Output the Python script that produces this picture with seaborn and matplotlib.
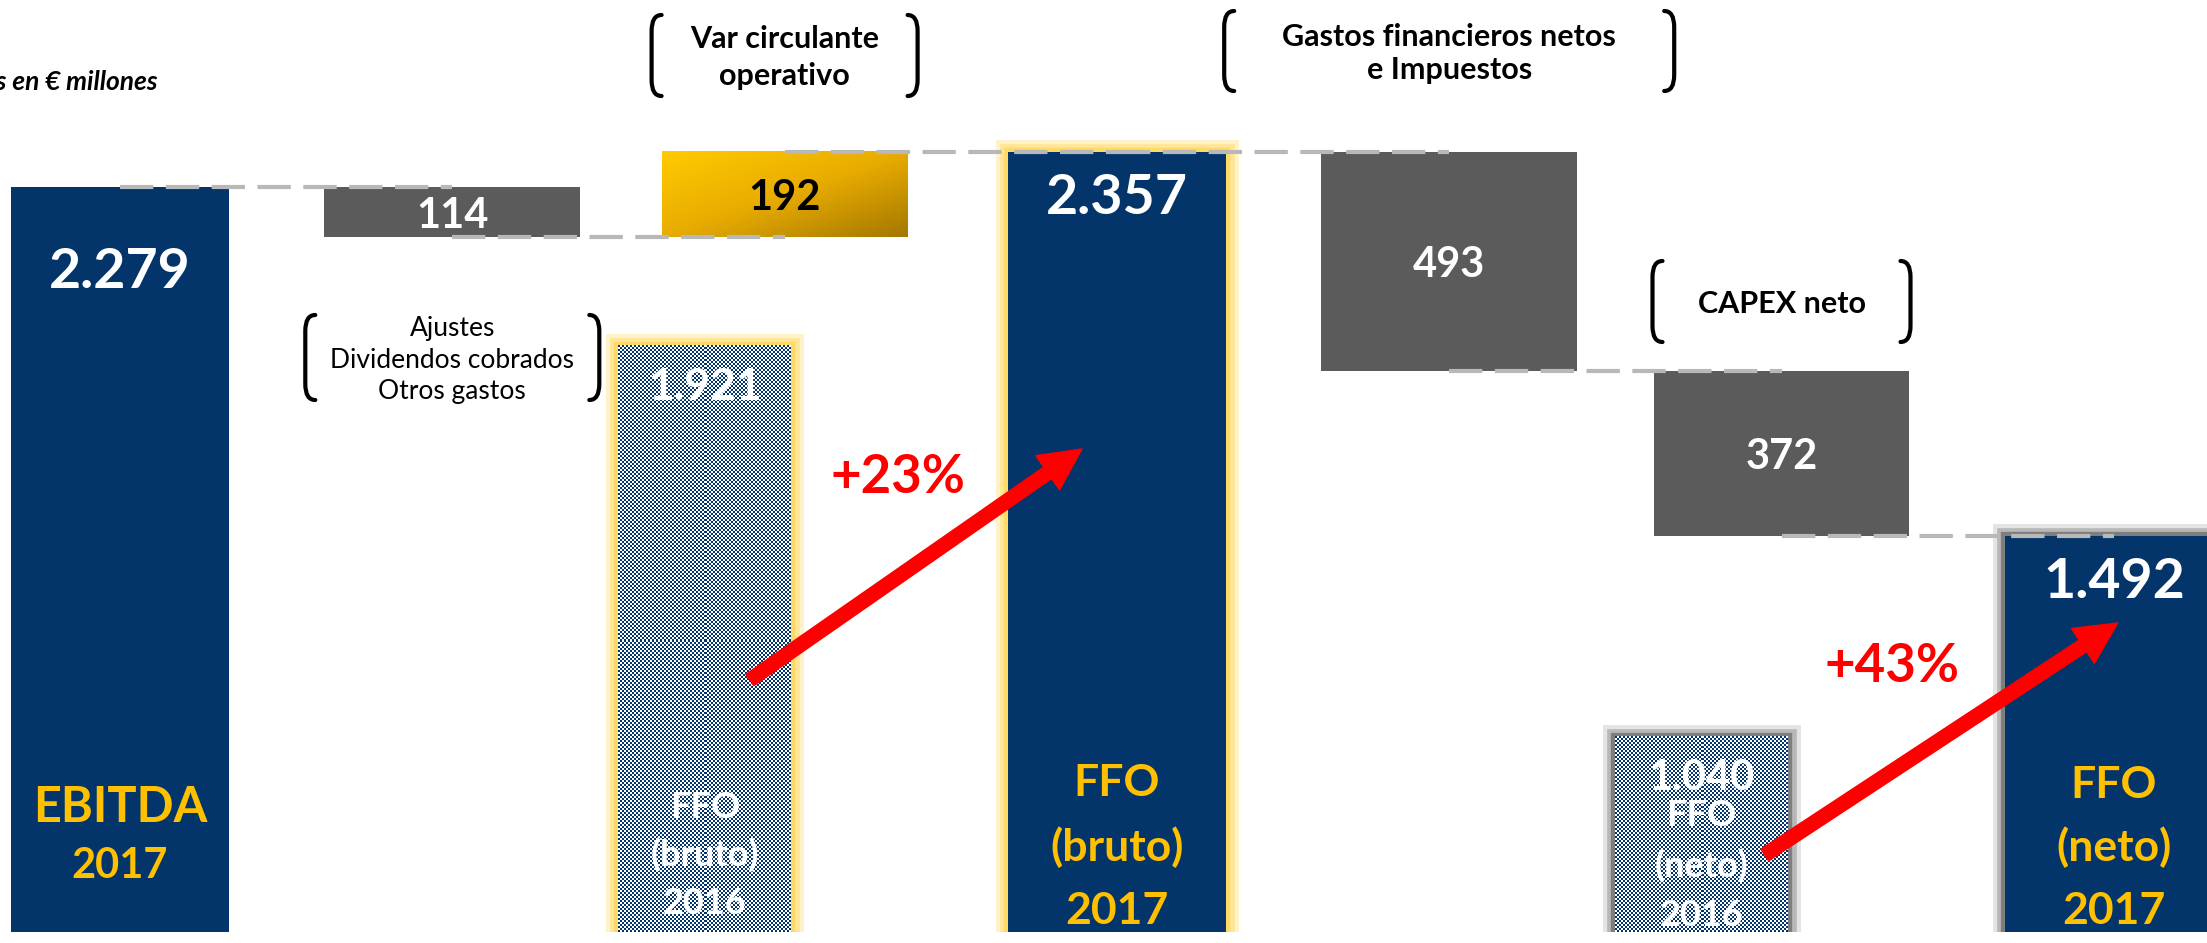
import numpy as np
import pandas as pd
import matplotlib
matplotlib.use("Agg")
import matplotlib.pyplot as plt
import matplotlib.patheffects as pe
from matplotlib.colors import ListedColormap, LinearSegmentedColormap
from matplotlib.patches import FancyArrowPatch, PathPatch
from matplotlib.path import Path
import seaborn as sns

# cifras en € millones
steps = ["EBITDA 2017", "Ajustes", "Var circulante operativo", "FFO bruto 2017",
         "Gastos financieros netos e Impuestos", "CAPEX neto", "FFO neto 2017"]
step_values = [2279, -114, 192, 2357, -493, -372, 1492]
step_kind = ["total", "delta", "delta", "total", "delta", "delta", "total"]
total_captions = {"EBITDA 2017": ["EBITDA", "2017"],
                  "FFO bruto 2017": ["FFO", "(bruto)", "2017"],
                  "FFO neto 2017": ["FFO", "(neto)", "2017"]}

# FFO 2016 (comparativa), dibujado junto a estos pasos
prev_steps = ["Var circulante operativo", "CAPEX neto"]
prev_values = [1921, 1040]
prev_captions = [["FFO", "(bruto)", "2016"], ["FFO", "(neto)", "2016"]]
growth_labels = ["+23%", "+43%"]
growth_targets = ["FFO bruto 2017", "FFO neto 2017"]

note_steps = ["Ajustes", "Var circulante operativo",
              "Gastos financieros netos e Impuestos", "CAPEX neto"]
note_texts = [["Ajustes", "Dividendos cobrados", "Otros gastos"],
              ["Var circulante", "operativo"],
              ["Gastos financieros netos", "e Impuestos"],
              ["CAPEX neto"]]

NAVY = "#03356A"
GRAY = "#5B5B5B"
GOLD_TXT = "#FFC000"
DASH = "#B8B8B8"

sns.set_theme(style="white")
plt.rcParams["font.family"] = ["Lato", "DejaVu Sans"]


def fmt(v):
    return f"{v:,}".replace(",", ".")


# niveles de la cascada
level = 0
bottoms, heights, levels = [], [], []
for v, k in zip(step_values, step_kind):
    if k == "total":
        b, h, level = 0, v, v
    else:
        b, h = min(level, level + v), abs(v)
        level += v
    bottoms.append(b)
    heights.append(h)
    levels.append(level)
df = pd.DataFrame({"step": steps, "value": step_values, "kind": step_kind,
                   "bottom": bottoms, "height": heights, "level": levels})
prev_df = pd.DataFrame({"step": prev_steps, "value": prev_values})

W, H = 2207, 943
BASE = 932
SPACING = 332.3
FIRST = 120
XLIM = (-FIRST / SPACING, (W - FIRST) / SPACING)
YLIM = (600, 2700)
SHIFT = 0.24


def fx(px):
    return px / W


def fy(py):
    return 1 - py / H


fig = plt.figure(figsize=(W / 100, H / 100), dpi=100)
fig.patch.set_facecolor("white")
ax = fig.add_axes([0, (H - BASE) / H, 1, BASE / H])

tot = df[df["kind"] == "total"]
neg = df[(df["kind"] == "delta") & (df["value"] < 0)]
pos = df[(df["kind"] == "delta") & (df["value"] > 0)]

n0 = len(ax.patches)
sns.barplot(data=tot, x="step", y="height", order=steps, color=NAVY, width=0.656,
            saturation=1, errorbar=None, linewidth=0, ax=ax)
tot_patches = ax.patches[n0:]
sns.barplot(data=neg, x="step", y="height", order=steps, color=GRAY, width=0.77,
            saturation=1, errorbar=None, linewidth=0, ax=ax,
            bottom=neg["bottom"].to_numpy())
n1 = len(ax.patches)
sns.barplot(data=pos, x="step", y="height", order=steps, color="#E2A800", width=0.74,
            saturation=1, errorbar=None, linewidth=0, ax=ax,
            bottom=pos["bottom"].to_numpy())
pos_patches = ax.patches[n1:]

ax2 = ax.twiny()
sns.barplot(data=prev_df, x="step", y="value", order=steps, color=NAVY, width=0.52,
            saturation=1, errorbar=None, linewidth=0, ax=ax2)
prev_patches = list(ax2.patches)

for a, shift in ((ax, 0), (ax2, SHIFT)):
    a.set_xlim(XLIM[0] + shift, XLIM[1] + shift)
    a.set_autoscale_on(False)
    a.axis("off")
ax.set_ylim(*YLIM)
ax2.set_ylim(*YLIM)

# resplandor amarillo / sombra gris
glow = [pe.Stroke(linewidth=18, foreground="#FFF2C8"),
        pe.Stroke(linewidth=12, foreground="#FFE597"),
        pe.Stroke(linewidth=6, foreground="#FFD966"), pe.Normal()]
shadow = [pe.Stroke(linewidth=18, foreground="#E4E4E4"),
          pe.Stroke(linewidth=12, foreground="#B8B8B8"),
          pe.Stroke(linewidth=6, foreground="#7E7E7E"), pe.Normal()]
tot_steps = list(tot["step"])
tot_patches[tot_steps.index("FFO bruto 2017")].set_path_effects(glow)
tot_patches[tot_steps.index("FFO neto 2017")].set_path_effects(shadow)
prev_patches[0].set_path_effects(glow)
prev_patches[1].set_path_effects(shadow)


def rect_px(a, p, ylo):
    x0, x1 = p.get_x(), p.get_x() + p.get_width()
    top = p.get_y() + p.get_height()
    y0 = max(p.get_y(), ylo)
    (px0, py0), (px1, py1) = a.transData.transform([(x0, y0), (x1, top)])
    return (x0, x1, y0, top), abs(px1 - px0), abs(py1 - py0)


# degradado dorado
gold_cmap = LinearSegmentedColormap.from_list("gold", ["#FFCB00", "#E8AC00", "#A47800"])
for p in pos_patches:
    ext, wpx, hpx = rect_px(ax, p, YLIM[0])
    u = np.linspace(0, 1, int(wpx))
    v = np.linspace(0, 1, int(hpx))
    grad = 0.5 * u[None, :] + 0.5 * v[:, None]
    ax.imshow(grad, cmap=gold_cmap, extent=ext, origin="upper", aspect="auto",
              interpolation="bilinear", zorder=p.get_zorder() + 0.1)

# trama de los FFO 2016
checker = ListedColormap([NAVY, "white"])
for p in prev_patches:
    ext, wpx, hpx = rect_px(ax2, p, YLIM[0])
    nx, ny = int(round(wpx / 2)), int(round(hpx / 2))
    arr = np.add.outer(np.arange(ny), np.arange(nx)) % 2
    ax2.imshow(arr, cmap=checker, extent=ext, aspect="auto", interpolation="nearest",
               zorder=p.get_zorder() + 0.1)

# conectores
for i in range(len(steps) - 1):
    ax.hlines(levels[i], i, i + 1, colors=DASH, linewidth=3,
              linestyles=(0, (8, 3)), zorder=4)

# etiquetas de valor
label_drop = {"EBITDA 2017": 81}
for i, row in df.iterrows():
    if row["kind"] == "total":
        ax.annotate(fmt(row["value"]), xy=(i, row["value"]),
                    xytext=(0, -label_drop.get(row["step"], 41)),
                    textcoords="offset pixels", ha="center", va="center_baseline",
                    color="white", fontsize=40, fontweight="bold", zorder=6)
    else:
        ax.text(i, row["bottom"] + row["height"] / 2, str(abs(row["value"])),
                ha="center", va="center_baseline", fontsize=30, fontweight="bold",
                color="black" if row["value"] > 0 else "white", zorder=6)

caption_style = {"EBITDA 2017": (69, 60, [35, 30]),
                 "FFO bruto 2017": (24, 64, [32, 32, 32]),
                 "FFO neto 2017": (25, 63, [32, 32, 32])}
for step, lines in total_captions.items():
    i = steps.index(step)
    base_up, gap, sizes = caption_style[step]
    n = len(lines)
    for j, line in enumerate(lines):
        ax.annotate(line, xy=(i, 0), xycoords=("data", "axes fraction"),
                    xytext=(0, base_up + gap * (n - 1 - j)), textcoords="offset pixels",
                    ha="center", va="center_baseline", color=GOLD_TXT,
                    fontsize=sizes[j], fontweight="bold", zorder=6)

prev_style = [(32, 48, 26, 32), (19, 50, 26, 30)]
for (step, v, lines), (base_up, gap, size, vsize) in zip(
        zip(prev_steps, prev_values, prev_captions), prev_style):
    i = steps.index(step)
    ax2.annotate(fmt(v), xy=(i, v), xytext=(0, -38), textcoords="offset pixels",
                 ha="center", va="center_baseline", color="white", fontsize=vsize,
                 fontweight="bold", zorder=6)
    n = len(lines)
    for j, line in enumerate(lines):
        ax2.annotate(line, xy=(i, 0), xycoords=("data", "axes fraction"),
                     xytext=(0, base_up + gap * (n - 1 - j)), textcoords="offset pixels",
                     ha="center", va="center_baseline", color="white",
                     fontsize=size, fontweight="bold", zorder=6)


def centre_px(a, step):
    return a.transData.transform((steps.index(step), 0))[0]


# flechas de crecimiento
arrow_rows = [(680, 449, 45, -35, -18, 473), (855, 623, 63, 4, -49, 662)]
for k, (sy, ey, sdx, edx, ldx, ly) in enumerate(arrow_rows):
    sx = centre_px(ax2, prev_steps[k]) + sdx
    ex = centre_px(ax, growth_targets[k]) + edx
    fig.add_artist(FancyArrowPatch(
        (fx(sx), fy(sy)), (fx(ex), fy(ey)), transform=fig.transFigure,
        arrowstyle="simple,head_length=1.5,head_width=1.5,tail_width=0.5",
        mutation_scale=20, color="#FF0000", shrinkA=0, shrinkB=0, zorder=10))
    fig.text(fx((sx + ex) / 2 + ldx), fy(ly), growth_labels[k], ha="center",
             va="center_baseline", color="#FF0000", fontsize=38, fontweight="bold",
             zorder=11)

# notas entre llaves
note_style = [(315, 400, 147, 19, "normal", 31.5), (15, 96, 133, 22, "bold", 37),
              (11, 91, 225, 22, "bold", 33), (261, 342, 129, 22, "bold", 34)]
for step, lines, (ytop, ybot, half, size, weight, lsp) in zip(note_steps, note_texts,
                                                             note_style):
    xc = centre_px(ax, step)
    for side in (-1, 1):
        x = xc + side * half
        hook = -side * 10
        verts = [(x + hook, ytop), (x, ytop), (x, ytop + 16), (x, ybot - 16),
                 (x, ybot), (x + hook, ybot)]
        codes = [Path.MOVETO, Path.CURVE3, Path.CURVE3, Path.LINETO,
                 Path.CURVE3, Path.CURVE3]
        fig.add_artist(PathPatch(Path([(fx(a), fy(b)) for a, b in verts], codes),
                                 fill=False, lw=3, ec="black",
                                 transform=fig.transFigure, capstyle="round"))
    yc = (ytop + ybot) / 2
    n = len(lines)
    for j, line in enumerate(lines):
        fig.text(fx(xc), fy(yc + (j - (n - 1) / 2) * lsp), line, ha="center",
                 va="center_baseline", fontsize=size, fontweight=weight, color="black")

# el titulo queda cortado por el borde izquierdo, como en el original
fig.text(fx(158), fy(80), "Cifras en € millones", ha="right", va="center_baseline",
         fontsize=19, fontweight="bold", style="italic", color="black")

fig.savefig("out.png", dpi=100, facecolor="white")
